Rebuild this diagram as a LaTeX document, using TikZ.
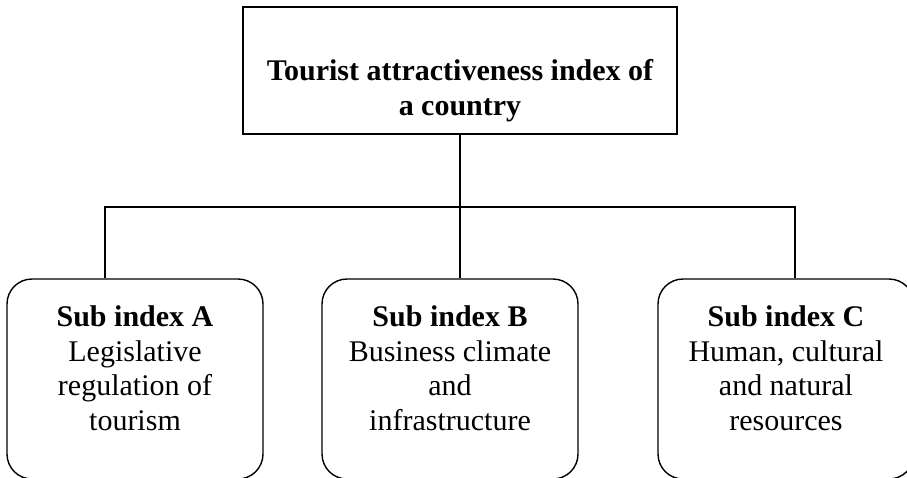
\documentclass[tikz,border=0pt]{standalone}
\usepackage{fontspec}
\setmainfont{Liberation Serif}
\usetikzlibrary{positioning}

\tikzset{
  topbox/.style={draw, line width=1.5pt, minimum width=434pt, minimum height=127pt, inner sep=0pt},
  subbox/.style={draw, line width=1.4pt, rounded corners=25pt, minimum width=256pt, minimum height=200pt, inner sep=0pt},
  boxtext/.style={align=center, font=\fontsize{30}{34.7}\selectfont, inner sep=0pt, anchor=north},
  link/.style={line width=1.5pt}
}

\begin{document}
\begin{tikzpicture}[x=1pt,y=-1pt]
  \useasboundingbox (0,0) rectangle (907,477);

  % the index on top
  \node[topbox] (index) at (460,70.5) {};
  \node[boxtext] (indextext) at (460,59.5) {\bfseries Tourist attractiveness index of\\ \bfseries a country};

  % the three sub indices
  \node[subbox] (subA) at (135,379) {};
  \node[subbox] (subB) at (450,379) {};
  \node[subbox] (subC) at (786,379) {};

  \node[boxtext] (textA) at (subA.north |- 0,305.5) {\textbf{Sub index A}\\ Legislative\\ regulation of\\ tourism};
  \node[boxtext] (textB) at (subB.north |- 0,305.5) {\textbf{Sub index B}\\ Business climate\\ and\\ infrastructure};
  \node[boxtext] (textC) at (subC.north |- 0,305.5) {\textbf{Sub index C}\\ Human, cultural\\ and natural\\ resources};

  % connectors
  \coordinate (leftend) at (105,207);
  \coordinate (rightend) at (795,207);
  \draw[link] (index.south) -- (index.south |- subB.north);
  \draw[link] (subA.north -| leftend) -- (leftend) -- (rightend) -- (rightend |- subC.north);
\end{tikzpicture}
\end{document}
